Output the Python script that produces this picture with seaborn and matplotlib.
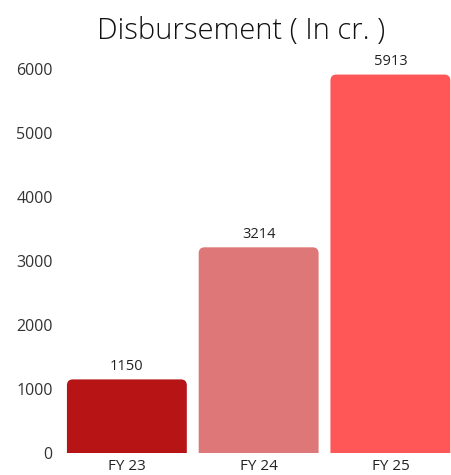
import matplotlib
matplotlib.use("Agg")
import matplotlib.pyplot as plt
from matplotlib.patches import FancyBboxPatch
import seaborn as sns
import pandas as pd

years = ["FY 23", "FY 24", "FY 25"]
disbursement = [1150, 3214, 5913]
bar_colors = ["#B71515", "#DE7778", "#FF5757"]

sns.set_theme(style="white")
plt.rcParams["font.family"] = ["Open Sans", "DejaVu Sans"]

df = pd.DataFrame({"year": years, "value": disbursement})

W, H = 451, 475
fig = plt.figure(figsize=(W / 100, H / 100), dpi=100)
# axes placed in pixel terms: left 61, right 451, bottom at 453 px from top
left, right, top, bottom = 61, 451, 62.6, 453
ax = fig.add_axes([left / W, (H - bottom) / H, (right - left) / W, (bottom - top) / H])

sns.barplot(data=df, x="year", y="value", hue="year", palette=bar_colors,
            width=0.91, legend=False, ax=ax, saturation=1)
ax.set_xlim(-0.5, 2.46)
ax.set_ylim(0, 6100)

# swap plain bars for ones with slightly rounded tops
px_x = (right - left) / (2.46 + 0.5)
px_y = (bottom - top) / 6100
for p, c in zip(list(ax.patches), bar_colors):
    x0, w, h = p.get_x(), p.get_width(), p.get_height()
    p.remove()
    rp = FancyBboxPatch((x0, -300), w, h + 300,
                        boxstyle="round,pad=0,rounding_size=0.045",
                        mutation_aspect=px_x / px_y,
                        facecolor=c, edgecolor="none")
    ax.add_patch(rp)
    ax.text(x0 + w / 2, h + 90, f"{h:.0f}", ha="center", va="bottom",
            fontsize=10.5, color="#222222")

ax.set_yticks([0, 1000, 2000, 3000, 4000, 5000, 6000])
ax.tick_params(axis="y", labelsize=11.5, labelcolor="#333333", pad=6, length=0)
ax.tick_params(axis="x", labelsize=11, labelcolor="#222222", pad=4, length=0)
ax.set_xlabel("")
ax.set_ylabel("")
for s in ax.spines.values():
    s.set_visible(False)

fig.text(241 / W, 1 - 31 / H, "Disbursement ( In cr. )", ha="center", va="center",
         fontsize=21, fontweight="light", color="#111111")

fig.savefig("out.png", dpi=100)
